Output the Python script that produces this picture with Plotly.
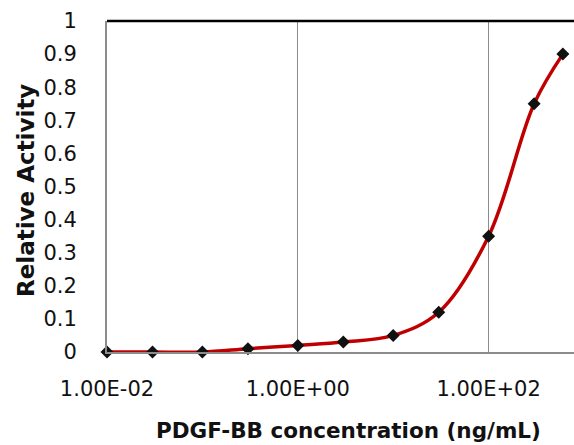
import plotly.graph_objects as go

concentration = [0.01, 0.03, 0.1, 0.3, 1, 3, 10, 30, 100, 300, 600]
activity = [0, 0, 0, 0.01, 0.02, 0.03, 0.05, 0.12, 0.35, 0.75, 0.9]

x_tickvals = [0.01, 1, 100]
x_ticktext = ["1.00E-02", "1.00E+00", "1.00E+02"]
y_tickvals = [0, 0.1, 0.2, 0.3, 0.4, 0.5, 0.6, 0.7, 0.8, 0.9, 1]
y_ticktext = ["0", "0.1", "0.2", "0.3", "0.4", "0.5", "0.6", "0.7", "0.8", "0.9", "1"]

FONT = "DejaVu Sans"
L, T, B, W, H = 107, 21, 93, 574, 445
PW, PH = W - L, H - T - B

fig = go.Figure()
fig.add_trace(go.Scatter(
    x=concentration, y=activity, mode="lines+markers",
    line=dict(color="#C00000", width=3.5, shape="spline", smoothing=1),
    marker=dict(symbol="diamond", size=10, color="#111111"),
    cliponaxis=False, showlegend=False,
))

fig.update_layout(
    width=W, height=H,
    margin=dict(l=L, r=0, t=T, b=B, autoexpand=False),
    paper_bgcolor="white", plot_bgcolor="white",
    font=dict(family=FONT, size=21, color="#111111"),
    xaxis=dict(
        type="log", range=[-2, 2.895], automargin=False,
        tickvals=x_tickvals, ticktext=x_ticktext,
        showgrid=True, gridcolor="#8c8c8c", gridwidth=1,
        showline=True, linecolor="#8c8c8c", linewidth=2,
        ticks="", ticklabelstandoff=17,
        tickfont=dict(family=FONT, size=21, color="#111111"),
        zeroline=False,
    ),
    yaxis=dict(
        range=[0, 1], automargin=False,
        tickvals=y_tickvals, ticktext=y_ticktext,
        showgrid=False,
        showline=True, linecolor="#8c8c8c", linewidth=2,
        ticks="", ticklabelstandoff=24,
        tickfont=dict(family=FONT, size=21, color="#111111"),
        zeroline=False,
    ),
    shapes=[dict(type="line", xref="paper", yref="paper", x0=0, x1=1, y0=1, y1=1,
                 line=dict(color="black", width=2.5))],
    annotations=[
        dict(text="<b>PDGF-BB concentration (ng/mL)</b>", xref="paper", yref="paper",
             x=(348 - L) / PW, y=-(430 - (H - B)) / PH, xanchor="center", yanchor="middle",
             showarrow=False, font=dict(family=FONT, size=21.5, color="#111111")),
        dict(text="<b>Relative Activity</b>", xref="paper", yref="paper",
             x=-(L - 26) / PW, y=((H - B) - 191) / PH, xanchor="center", yanchor="middle",
             textangle=-90, showarrow=False, font=dict(family=FONT, size=23, color="#111111")),
    ],
)

fig.write_html("out.html", config={"displayModeBar": False},
               post_script="document.body.style.margin='0px';document.body.style.overflow='hidden';")
